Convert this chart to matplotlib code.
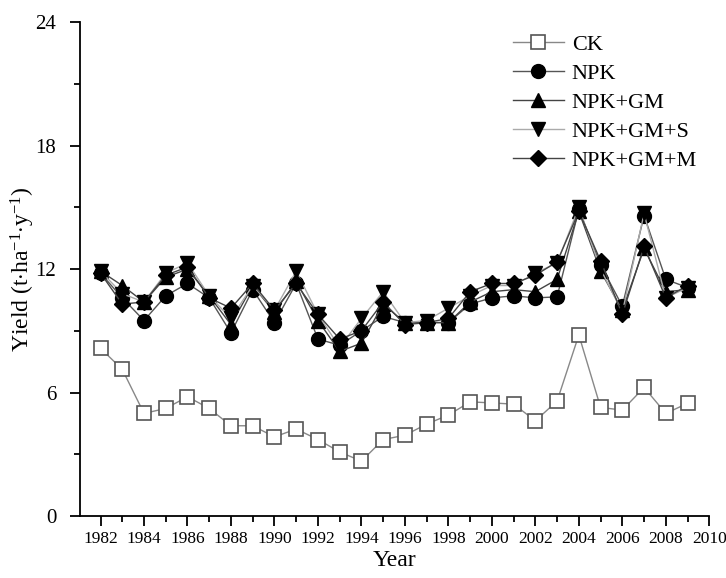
import matplotlib
matplotlib.use("Agg")
import matplotlib.pyplot as plt
from matplotlib.ticker import MultipleLocator

plt.rcParams['font.family'] = ['Liberation Serif', 'DejaVu Serif']
plt.rcParams['mathtext.fontset'] = 'custom'
plt.rcParams['mathtext.rm'] = 'Liberation Serif'
plt.rcParams['mathtext.it'] = 'Liberation Serif:italic'

years = list(range(1982, 2010))
ck = [8.15, 7.13, 4.99, 5.23, 5.80, 5.23, 4.39, 4.39, 3.85, 4.23, 3.72, 3.12, 2.67, 3.72,
      3.93, 4.47, 4.91, 5.55, 5.50, 5.44, 4.63, 5.59, 8.80, 5.28, 5.15, 6.25, 4.99, 5.48]
npk = [11.8, 10.6, 9.5, 10.7, 11.3, 10.6, 8.9, 11.0, 9.4, 11.3, 8.6, 8.3, 9.0, 9.7,
       9.4, 9.4, 9.4, 10.3, 10.6, 10.7, 10.6, 10.65, 14.9, 12.2, 10.2, 14.6, 11.5, 11.1]
npk_gm = [11.9, 11.2, 10.4, 11.6, 12.0, 10.7, 9.3, 11.2, 9.9, 11.4, 9.5, 8.0, 8.4, 10.3,
          9.4, 9.4, 9.4, 10.4, 10.9, 11.0, 10.9, 11.5, 14.8, 11.9, 10.0, 13.0, 10.9, 11.0]
npk_gm_s = [11.9, 10.8, 10.4, 11.8, 12.3, 10.7, 9.6, 11.2, 10.0, 11.9, 9.8, 8.2, 9.6, 10.9,
            9.4, 9.5, 10.1, 10.7, 11.2, 11.2, 11.8, 12.3, 15.0, 12.0, 9.9, 14.7, 10.6, 11.1]
npk_gm_m = [11.8, 10.3, 10.4, 11.7, 12.1, 10.6, 10.1, 11.3, 10.0, 11.3, 9.8, 8.6, 9.0, 10.4,
            9.3, 9.4, 9.6, 10.9, 11.3, 11.3, 11.7, 12.35, 14.8, 12.4, 9.8, 13.1, 10.6, 11.2]

fig = plt.figure(figsize=(7.26, 5.78), dpi=100)
ax = fig.add_axes([0.110, 0.107, 0.867, 0.855])

ax.plot(years, ck, color='#888888', lw=1.0, marker='s', ms=10, mfc='white',
        mec='#555555', mew=1.2, label='CK')
ax.plot(years, npk, color='#555555', lw=1.0, marker='o', ms=10, mfc='black',
        mec='black', label='NPK')
ax.plot(years, npk_gm, color='#444444', lw=1.0, marker='^', ms=10, mfc='black',
        mec='black', label='NPK+GM')
ax.plot(years, npk_gm_s, color='#aaaaaa', lw=1.0, marker='v', ms=10, mfc='black',
        mec='black', label='NPK+GM+S')
ax.plot(years, npk_gm_m, color='#444444', lw=1.0, marker='D', ms=8, mfc='black',
        mec='black', label='NPK+GM+M')

ax.set_xlim(1981.05, 2010.0)
ax.set_ylim(0, 24)
ax.xaxis.set_major_locator(MultipleLocator(2))
ax.xaxis.set_minor_locator(MultipleLocator(1))
ax.yaxis.set_major_locator(MultipleLocator(6))
ax.yaxis.set_minor_locator(MultipleLocator(3))
ax.spines['top'].set_visible(False)
ax.spines['right'].set_visible(False)
for s in ('left', 'bottom'):
    ax.spines[s].set_linewidth(1.3)
ax.tick_params(which='major', direction='out', length=7, width=1.3)
ax.tick_params(which='minor', direction='out', length=4, width=1.3)
ax.tick_params(axis='x', which='major', labelsize=12.5)
ax.tick_params(axis='y', which='major', labelsize=15, pad=10)

ax.set_xlabel('Year', fontsize=17, labelpad=2)
ax.set_ylabel(r'Yield (t$\cdot$ha$^{-1}$$\cdot$y$^{-1}$)', fontsize=17)
ax.yaxis.set_label_coords(-0.068, 0.5)

ax.legend(loc='upper right', bbox_to_anchor=(1.0, 1.0), frameon=False, fontsize=16,
          handlelength=2.3, handletextpad=0.35, labelspacing=0.38, borderaxespad=0.15)

fig.savefig('out.png', dpi=100)
